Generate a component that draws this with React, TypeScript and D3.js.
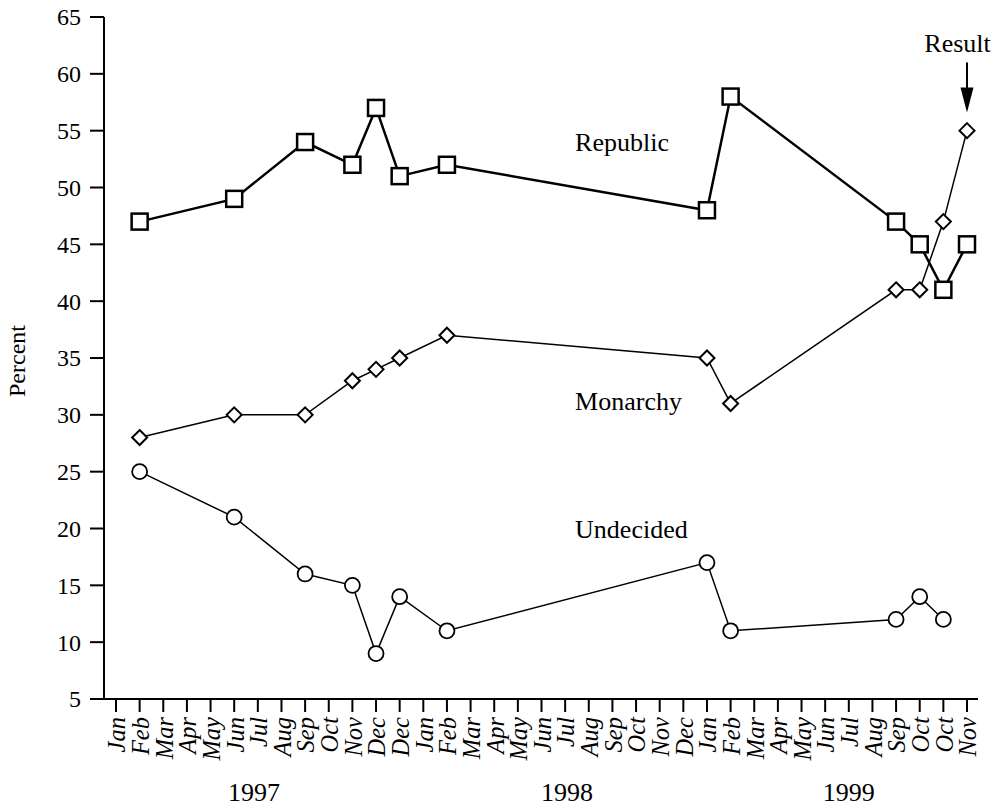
import React from "react";
import * as d3 from "d3";

const monthLabels = [
  "Jan","Feb","Mar","Apr","May","Jun","Jul","Aug","Sep","Oct","Nov","Dec","Dec",
  "Jan","Feb","Mar","Apr","May","Jun","Jul","Aug","Sep","Oct","Nov","Dec",
  "Jan","Feb","Mar","Apr","May","Jun","Jul","Aug","Sep","Oct","Oct","Nov",
];
const yearLabels = ["1997", "1998", "1999"];
const yearCenters = [5.84, 19.08, 31.0];

const pollIndex = [1, 5, 8, 10, 11, 12, 14, 25, 26, 33, 34, 35, 36];
const republic = [47, 49, 54, 52, 57, 51, 52, 48, 58, 47, 45, 41, 45];
const monarchy = [28, 30, 30, 33, 34, 35, 37, 35, 31, 41, 41, 47, 55];
const undecided: (number | null)[] = [25, 21, 16, 15, 9, 14, 11, 17, 11, 12, 14, 12, null];

const yTicks = [5, 10, 15, 20, 25, 30, 35, 40, 45, 50, 55, 60, 65];

const seriesLabels = [
  { text: "Republic", idx: 19.42, value: 53.2 },
  { text: "Monarchy", idx: 19.42, value: 30.4 },
  { text: "Undecided", idx: 19.42, value: 19.2 },
];
const resultLabel = { text: "Result", idx: 35.6, value: 61.9 };
const resultArrow = { idx: 36, from: 61.0, to: 56.6 };

const FONT = "'Liberation Serif', 'Times New Roman', serif";

export default function App() {
  const W = 1003, H = 807;
  const x = d3.scaleLinear().domain([0, monthLabels.length - 1]).range([116, 967]);
  const y = d3.scaleLinear().domain([5, 65]).range([699, 17]);
  const axisX0 = 104;
  const axisY = y(5);

  type P = { i: number; v: number | null };
  const mk = (vals: (number | null)[]): P[] => pollIndex.map((i, k) => ({ i, v: vals[k] }));
  const line = d3
    .line<P>()
    .defined((d) => d.v !== null)
    .x((d) => x(d.i))
    .y((d) => y(d.v as number));

  const repData = mk(republic);
  const monData = mk(monarchy);
  const undData = mk(undecided).filter((d) => d.v !== null);

  const sq = 8;
  const dm = 7.5;
  const diamond = (cx: number, cy: number) =>
    `M${cx},${cy - dm}L${cx + dm},${cy}L${cx},${cy + dm}L${cx - dm},${cy}Z`;

  const ax = x(resultArrow.idx);
  const aTop = y(resultArrow.from);
  const aTip = y(resultArrow.to);

  return (
    <svg
      width={W}
      height={H}
      style={{ position: "absolute", left: 0, top: 0, background: "#fff" }}
      fontFamily={FONT}
    >
      <rect width={W} height={H} fill="#fff" />
      {/* Y axis */}
      <line x1={axisX0} x2={axisX0} y1={y(65)} y2={axisY} stroke="#000" strokeWidth={2} />
      {yTicks.map((t) => (
        <g key={t}>
          <line x1={axisX0 - 14} x2={axisX0} y1={y(t)} y2={y(t)} stroke="#000" strokeWidth={2} />
          <text x={axisX0 - 23} y={y(t)} dy="0.35em" textAnchor="end" fontSize={24} fill="#000">
            {t}
          </text>
        </g>
      ))}
      <text
        transform={`translate(25, 361) rotate(-90)`}
        textAnchor="middle"
        fontSize={24}
        fill="#000"
      >
        Percent
      </text>
      {/* X axis */}
      <line x1={axisX0 - 14} x2={978} y1={axisY} y2={axisY} stroke="#000" strokeWidth={2} />
      {monthLabels.map((m, i) => (
        <g key={i}>
          <line x1={x(i)} x2={x(i)} y1={axisY} y2={axisY + 13} stroke="#000" strokeWidth={2} />
          <text
            transform={`translate(${x(i)}, ${axisY + 18}) rotate(-90)`}
            dy="0.38em"
            textAnchor="end"
            fontSize={24.5}
            fontStyle="italic"
            fill="#000"
          >
            {m}
          </text>
        </g>
      ))}
      {yearLabels.map((yl, k) => (
        <text key={yl} x={x(yearCenters[k])} y={801} textAnchor="middle" fontSize={26} fill="#000">
          {yl}
        </text>
      ))}

      {/* Lines */}
      <path d={line(undData) || ""} fill="none" stroke="#000" strokeWidth={1.5} />
      <path d={line(monData) || ""} fill="none" stroke="#000" strokeWidth={1.5} />
      <path d={line(repData) || ""} fill="none" stroke="#000" strokeWidth={2.5} />

      {/* Markers */}
      {undData.map((d, k) => (
        <circle key={"u" + k} cx={x(d.i)} cy={y(d.v as number)} r={7.5} fill="#fff" stroke="#000" strokeWidth={1.8} />
      ))}
      {monData.map((d, k) => (
        <path key={"m" + k} d={diamond(x(d.i), y(d.v as number))} fill="#fff" stroke="#000" strokeWidth={2} />
      ))}
      {repData.map((d, k) => (
        <rect
          key={"r" + k}
          x={x(d.i) - sq}
          y={y(d.v as number) - sq}
          width={sq * 2}
          height={sq * 2}
          fill="#fff"
          stroke="#000"
          strokeWidth={2.5}
        />
      ))}

      {/* Series labels */}
      {seriesLabels.map((s) => (
        <text key={s.text} x={x(s.idx)} y={y(s.value)} fontSize={26} fill="#000">
          {s.text}
        </text>
      ))}
      <text x={x(resultLabel.idx)} y={y(resultLabel.value)} textAnchor="middle" fontSize={26} fill="#000">
        {resultLabel.text}
      </text>
      <line x1={ax} x2={ax} y1={aTop} y2={aTip - 20} stroke="#000" strokeWidth={2} />
      <path d={`M${ax - 6.5},${aTip - 25}L${ax + 6.5},${aTip - 25}L${ax},${aTip}Z`} fill="#000" />
    </svg>
  );
}
